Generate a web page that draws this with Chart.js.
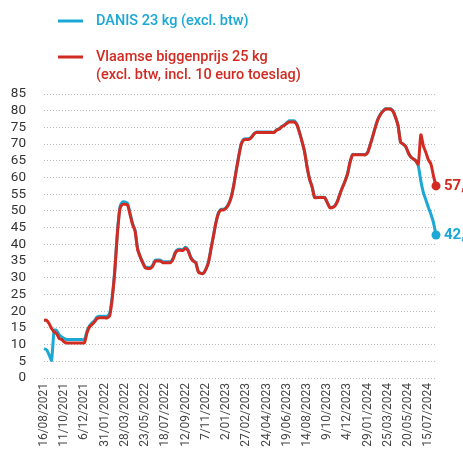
<!DOCTYPE html>
<html>
<head>
<meta charset="utf-8">
<script src="https://cdn.jsdelivr.net/npm/chart.js@4"></script>
<style>
  html, body { margin: 0; padding: 0; background: #fff; }
  #wrap { position: relative; width: 463px; height: 450px; }
</style>
</head>
<body>
<div id="wrap"><canvas id="chart" width="463" height="450"></canvas></div>
<script>
// ── Data ────────────────────────────────────
var startDate = "2021-08-16";

var tickLabels = [
  "16/08/2021", "11/10/2021", "6/12/2021", "31/01/2022", "28/03/2022",
  "23/05/2022", "18/07/2022", "12/09/2022", "7/11/2022", "2/01/2023",
  "27/02/2023", "24/04/2023", "19/06/2023", "14/08/2023", "9/10/2023",
  "4/12/2023", "29/01/2024", "25/03/2024", "20/05/2024", "15/07/2024"
];

var yTicks = [0, 5, 10, 15, 20, 25, 30, 35, 40, 45, 50, 55, 60, 65, 70, 75, 80, 85];

// DANIS 23 kg (excl. btw)
var danis = [
  8.8, 8.5, 7, 5.3, 14.3, 14.2, 13, 12.3, 11.8, 11.5,
  11.5, 11.5, 11.5, 11.5, 11.5, 11.5, 11.5, 14, 15.6, 16.5,
  17.2, 18.3, 18.5, 18.5, 18.5, 18.5, 19.5, 24.5, 32.5, 43.5,
  51, 52.7, 52.7, 52.3, 49.5, 46.3, 44.3, 38.8, 36.5, 34.8,
  33.3, 33.1, 33.1, 33.8, 35.3, 35.3, 35.3, 34.8, 34.8, 34.8,
  34.8, 35.8, 37.8, 38.5, 38.5, 38.5, 39.1, 38.3, 36.3, 35.2,
  34.6, 31.9, 31.4, 31.4, 32.6, 34.6, 38.6, 42.6, 46.6, 49.5,
  50.5, 50.5, 51, 52.2, 54.2, 57.7, 62.2, 66.5, 70.2, 71.5,
  71.6, 71.6, 72.1, 73.1, 73.6, 73.6, 73.6, 73.6, 73.6, 73.6,
  73.6, 73.6, 74.3, 74.6, 75.3, 75.7, 76.4, 77, 77, 77,
  75.9, 73.6, 70.9, 67.9, 63.3, 59.6, 57.3, 54.1, 54.1, 54.1,
  54.1, 54.1, 52.6, 51.1, 51.1, 51.6, 52.9, 55.1, 57.1, 58.9,
  61.1, 64.6, 66.9, 66.9, 66.9, 66.9, 66.9, 66.9, 67.6, 69.9,
  72.4, 75.1, 77.4, 78.9, 79.9, 80.6, 80.6, 80.6, 79.9, 78.1,
  75.6, 70.6, 70, 69.3, 67.5, 66.2, 65.6, 65, 63.5, 59,
  55.5, 53.3, 51, 49, 46.5, 42.8
];

// Vlaamse biggenprijs 25 kg (excl. btw, incl. 10 euro toeslag)
var vlaamse = [
  17.3, 17.3, 16.3, 14.8, 13.8, 13.3, 11.8, 11.5, 10.8, 10.5,
  10.5, 10.5, 10.5, 10.5, 10.5, 10.5, 10.5, 13.5, 15.3, 16,
  16.8, 17.8, 18, 18, 18, 18, 18.7, 24, 32, 43,
  50.5, 52, 52, 51.8, 49, 46, 44, 38.5, 36.3, 34.5,
  33, 32.8, 32.8, 33.5, 35, 35, 35, 34.5, 34.5, 34.5,
  34.5, 35.5, 37.5, 38.2, 38.2, 38.2, 38.8, 38, 36, 35,
  34.5, 31.8, 31.3, 31.3, 32.5, 34.5, 38.5, 42.5, 46.5, 49.3,
  50.3, 50.3, 50.8, 52, 54, 57.5, 62, 66.3, 70, 71.3,
  71.4, 71.4, 72, 73, 73.5, 73.5, 73.5, 73.5, 73.5, 73.5,
  73.5, 73.5, 74.2, 74.5, 75.2, 75.6, 76.2, 76.6, 76.6, 76.6,
  75.8, 73.5, 70.8, 67.8, 63.2, 59.5, 57.2, 54, 54, 54,
  54, 54, 52.5, 51, 51, 51.5, 52.8, 55, 57, 58.8,
  61, 64.5, 66.8, 66.8, 66.8, 66.8, 66.8, 66.8, 67.5, 69.8,
  72.3, 75, 77.3, 78.8, 79.8, 80.5, 80.5, 80.5, 79.8, 78,
  75.5, 70.5, 70, 69.3, 67.5, 66.2, 65.6, 65, 64, 72.8,
  69.5, 67.5, 65.3, 64, 60.5, 57.5
];

var seriesNames = [
  ["DANIS 23 kg (excl. btw)"],
  ["Vlaamse biggenprijs 25 kg", "(excl. btw, incl. 10 euro toeslag)"]
];

// weekly categories, d/mm/yyyy
var categories = (function () {
  var out = [];
  var t = Date.parse(startDate + "T00:00:00Z");
  for (var i = 0; i < vlaamse.length; i++) {
    var d = new Date(t + i * 7 * 86400000);
    var mm = ("0" + (d.getUTCMonth() + 1)).slice(-2);
    out.push(d.getUTCDate() + "/" + mm + "/" + d.getUTCFullYear());
  }
  return out;
})();

var BLUE = "#1ba8d5";
var RED = "#d12b22";
var FONT = "Roboto, 'Noto Sans', sans-serif";

function endRadius(arr) {
  return arr.map(function (v, i) { return i === arr.length - 1 ? 4.5 : 0; });
}

// ── Legend + end labels ─────────────────────
var decorations = {
  id: "decorations",
  afterDraw: function (chart) {
    var ctx = chart.ctx;
    ctx.save();

    // legend
    var items = [
      { color: BLUE, y: 21, lines: seriesNames[0] },
      { color: RED, y: 57, lines: seriesNames[1] }
    ];
    items.forEach(function (it) {
      ctx.strokeStyle = it.color;
      ctx.lineWidth = 3;
      ctx.beginPath();
      ctx.moveTo(58, it.y);
      ctx.lineTo(83, it.y);
      ctx.stroke();
      ctx.fillStyle = it.color;
      ctx.font = "500 14.5px " + FONT;
      ctx.textBaseline = "middle";
      ctx.textAlign = "left";
      it.lines.forEach(function (line, k) {
        ctx.fillText(line, 96, it.y + k * 18);
      });
    });

    // values at the end of each line
    chart.data.datasets.forEach(function (ds, di) {
      var meta = chart.getDatasetMeta(di);
      var pt = meta.data[meta.data.length - 1];
      var v = ds.data[ds.data.length - 1];
      ctx.fillStyle = ds.borderColor;
      ctx.font = "bold 15px " + FONT;
      ctx.textBaseline = "middle";
      ctx.textAlign = "left";
      ctx.fillText(String(v).replace(".", ","), pt.x + 8, pt.y);
    });

    ctx.restore();
  }
};

// ── Chart ───────────────────────────────────
new Chart(document.getElementById("chart"), {
  type: "line",
  data: {
    labels: categories,
    datasets: [
      {
        label: seriesNames[1].join(" "),
        data: vlaamse,
        borderColor: RED,
        backgroundColor: RED,
        borderWidth: 3,
        pointRadius: endRadius(vlaamse),
        pointBorderWidth: 0,
        tension: 0.2,
        clip: false,
        order: 0
      },
      {
        label: seriesNames[0][0],
        data: danis,
        borderColor: BLUE,
        backgroundColor: BLUE,
        borderWidth: 3,
        pointRadius: endRadius(danis),
        pointBorderWidth: 0,
        tension: 0.2,
        clip: false,
        order: 1
      }
    ]
  },
  options: {
    responsive: false,
    animation: false,
    layout: { padding: { top: 94, right: 27, left: 0, bottom: 0 } },
    plugins: {
      legend: { display: false },
      tooltip: { enabled: false }
    },
    scales: {
      x: {
        type: "category",
        offset: false,
        afterBuildTicks: function (axis) {
          axis.ticks = axis.ticks.filter(function (t) {
            return tickLabels.indexOf(categories[t.value]) !== -1;
          });
        },
        afterFit: function (axis) { axis.height = 72; },
        ticks: {
          autoSkip: false,
          minRotation: 90,
          maxRotation: 90,
          padding: 5,
          color: "#444",
          font: { family: FONT, size: 12 }
        },
        grid: { display: false, drawTicks: false },
        border: { display: false }
      },
      y: {
        min: yTicks[0],
        max: yTicks[yTicks.length - 1],
        afterBuildTicks: function (axis) {
          axis.ticks = yTicks.map(function (v) { return { value: v }; });
        },
        afterFit: function (axis) { axis.width = 44; },
        ticks: {
          autoSkip: false,
          padding: 18,
          color: "#333",
          font: { family: FONT, size: 13.5 }
        },
        grid: { color: "#b8b8b8", lineWidth: 1, drawTicks: false },
        border: { display: false, dash: [1, 2] }
      }
    }
  },
  plugins: [decorations]
});
</script>
</body>
</html>
